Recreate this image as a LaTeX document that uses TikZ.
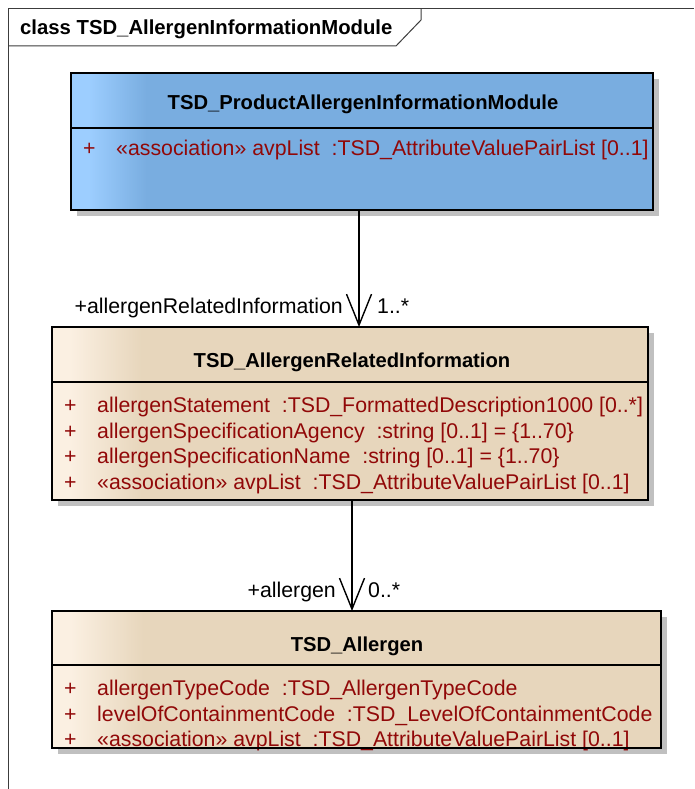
\documentclass[tikz,border=0pt]{standalone}
\usepackage{fontspec}
\setmainfont{Liberation Sans}
\usetikzlibrary{arrows.meta,calc,backgrounds}
\definecolor{bluemain}{RGB}{121,173,224}
\definecolor{bluelight}{RGB}{157,206,255}
\definecolor{beigemain}{RGB}{231,214,188}
\definecolor{beigelight}{RGB}{251,240,226}
\definecolor{attrred}{RGB}{145,8,8}
\definecolor{shadowgray}{RGB}{192,192,192}
\definecolor{framegray}{RGB}{60,60,60}
\pgfdeclarehorizontalshading{blueshade}{100bp}{color(0bp)=(bluelight); color(26.5bp)=(bluelight); color(31.5bp)=(bluemain); color(100bp)=(bluemain)}
\pgfdeclarehorizontalshading{beigeshade}{100bp}{color(0bp)=(beigelight); color(26.5bp)=(beigelight); color(32.5bp)=(beigemain); color(100bp)=(beigemain)}
\tikzset{
  umlbox/.style={draw=black, line width=1.7pt, rectangle, inner sep=0pt, outer sep=0pt, anchor=north west},
  bluebox/.style={umlbox, shading=blueshade},
  beigebox/.style={umlbox, shading=beigeshade},
  shadowfill/.style={fill=shadowgray},
  divider/.style={draw=black, line width=1.7pt},
  boxtitle/.style={anchor=base, inner sep=0pt, font=\fontsize{20.2}{24}\selectfont\bfseries},
  attr/.style={anchor=base west, inner sep=0pt, text=attrred, font=\fontsize{21.3}{25}\selectfont},
  rolelabel/.style={inner sep=0pt, font=\fontsize{21.3}{25}\selectfont},
  assoc/.style={draw=black, line width=1.4pt, -{Straight Barb[length=31pt,width=25pt]}},
  framepen/.style={draw=framegray, line width=1pt}
}
\begin{document}
\begin{tikzpicture}[x=1pt,y=-1pt]
\useasboundingbox (0,0) rectangle (694,789);
% frame
\draw[framepen] (8,789) -- (8,9) -- (694,9);
\draw[framepen] (8,46) -- (396,46) -- (421,20) -- (421,9);
\node[anchor=base west, inner sep=0pt, font=\fontsize{20.3}{24}\selectfont\bfseries] (frametitle) at (20,35) {class TSD\_AllergenInformationModule};

% boxes
\node[bluebox, minimum width=582pt, minimum height=137pt] (b1) at (71,73) {};
\node[beigebox, minimum width=596pt, minimum height=173pt] (b2) at (52,327) {};
\node[beigebox, minimum width=609pt, minimum height=137pt] (b3) at (52,611) {};

\begin{scope}[on background layer]
  \fill[shadowfill] ($(b1.north west)+(6,6)$) rectangle ($(b1.south east)+(6,6)$);
  \fill[shadowfill] ($(b2.north west)+(6,6)$) rectangle ($(b2.south east)+(6,6)$);
  \fill[shadowfill] ($(b3.north west)+(6,6)$) rectangle ($(b3.south east)+(6,6)$);
\end{scope}

% dividers
\draw[divider] ($(b1.north west)+(0,55)$) -- ($(b1.north east)+(0,55)$);
\draw[divider] ($(b2.north west)+(0,55)$) -- ($(b2.north east)+(0,55)$);
\draw[divider] ($(b3.north west)+(0,54)$) -- ($(b3.north east)+(0,54)$);

% titles
\node[boxtitle] (t1) at (363,110) {TSD\_ProductAllergenInformationModule};
\node[boxtitle] (t2) at (352,367) {TSD\_AllergenRelatedInformation};
\node[boxtitle] (t3) at (357,651) {TSD\_Allergen};

% attributes box 1
\node[attr] (p11) at (83,155) {+};
\node[attr] (a11) at (116,155) {«association» avpList\ \ :TSD\_AttributeValuePairList [0..1]};

% attributes box 2
\node[attr] (p21) at (64,412) {+};
\node[attr] (a21) at (97,412) {allergenStatement\ \ :TSD\_FormattedDescription1000 [0..*]};
\node[attr] (p22) at (64,438) {+};
\node[attr] (a22) at (97,438) {allergenSpecificationAgency\ \ :string [0..1] = \{1..70\}};
\node[attr] (p23) at (64,463) {+};
\node[attr] (a23) at (97,463) {allergenSpecificationName\ \ :string [0..1] = \{1..70\}};
\node[attr] (p24) at (64,489) {+};
\node[attr] (a24) at (97,489) {«association» avpList\ \ :TSD\_AttributeValuePairList [0..1]};

% attributes box 3
\node[attr] (p31) at (64,695) {+};
\node[attr] (a31) at (97,695) {allergenTypeCode\ \ :TSD\_AllergenTypeCode};
\node[attr] (p32) at (64,721) {+};
\node[attr] (a32) at (97,721) {levelOfContainmentCode\ \ :TSD\_LevelOfContainmentCode};
\node[attr] (p33) at (64,746) {+};
\node[attr] (a33) at (97,746) {«association» avpList\ \ :TSD\_AttributeValuePairList [0..1]};
\draw[divider] (b3.south west) -- (b3.south east);

% connectors
\coordinate (cx1) at (359,0);
\coordinate (cx2) at (352,0);
\draw[assoc] (b1.south -| cx1) -- (b2.north -| cx1);
\draw[assoc] (b2.south -| cx2) -- (b3.north -| cx2);

% role labels
\node[rolelabel, anchor=base east] (r1) at (343,313) {+allergenRelatedInformation};
\node[rolelabel, anchor=base west] (m1) at (377,313) {1..*};
\node[rolelabel, anchor=base east] (r2) at (336,597) {+allergen};
\node[rolelabel, anchor=base west] (m2) at (368,597) {0..*};
\end{tikzpicture}
\end{document}
